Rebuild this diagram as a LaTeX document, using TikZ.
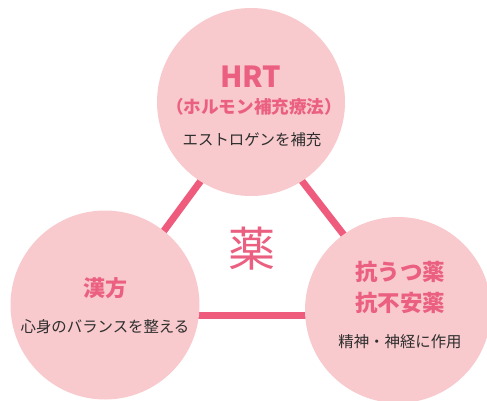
\documentclass[tikz,border=0pt]{standalone}
\usepackage{fontspec}
\newfontfamily\cjk{Noto Sans CJK JP}
\definecolor{circfill}{HTML}{F8CACD}
\definecolor{linepink}{HTML}{EF5B7D}
\definecolor{titlepink}{HTML}{EB5F80}
\definecolor{darktext}{HTML}{2E2E2E}
\tikzset{
  bubble/.style={circle, fill=circfill, inner sep=0pt},
  title/.style={text=titlepink, font=\cjk\bfseries, inner sep=0pt, anchor=center},
  sub/.style={text=darktext, font=\cjk\fontsize{15.4}{18}\selectfont, inner sep=0pt, anchor=center},
  link/.style={draw=linepink, line width=7pt}
}
\begin{document}
\begin{tikzpicture}[x=1pt,y=-1pt]
\useasboundingbox (0,0) rectangle (487,400);
% triangle
\coordinate (vt) at (250,114);
\coordinate (vl) at (102,315);
\coordinate (vr) at (406,315);
\draw[link] (vt) -- (vl);
\draw[link] (vt) -- (vr);
\draw[link] (vl) -- (vr);
% circles
\node[bubble, minimum size=188pt] (top) at (251,102) {};
\node[bubble, minimum size=189pt] (left) at (105,305) {};
\node[bubble, minimum size=186pt] (right) at (398,310) {};
% texts
\node[title, font=\cjk\bfseries\fontsize{29}{32}\selectfont] (hrt) at (251,77) {HRT};
\node[title, font=\cjk\bfseries\fontsize{17.6}{20}\selectfont] (hrtsub) at (254,107) {（ホルモン補充療法）};
\node[sub] (hrtdesc) at (252,140) {エストロゲンを補充};
\node[title, font=\cjk\bfseries\fontsize{22}{26}\selectfont] (kampo) at (105,288) {漢方};
\node[sub] (kampodesc) at (105,327) {心身のバランスを整える};
\node[title, font=\cjk\bfseries\fontsize{22.5}{26}\selectfont] (anti1) at (400,272) {抗うつ薬};
\node[title, font=\cjk\bfseries\fontsize{22.5}{26}\selectfont] (anti2) at (400,303) {抗不安薬};
\node[sub] (antidesc) at (400,342) {精神・神経に作用};
\node[text=titlepink, font=\cjk\fontsize{47}{50}\selectfont, inner sep=0pt] (kusuri) at (252,249) {薬};
\end{tikzpicture}
\end{document}
